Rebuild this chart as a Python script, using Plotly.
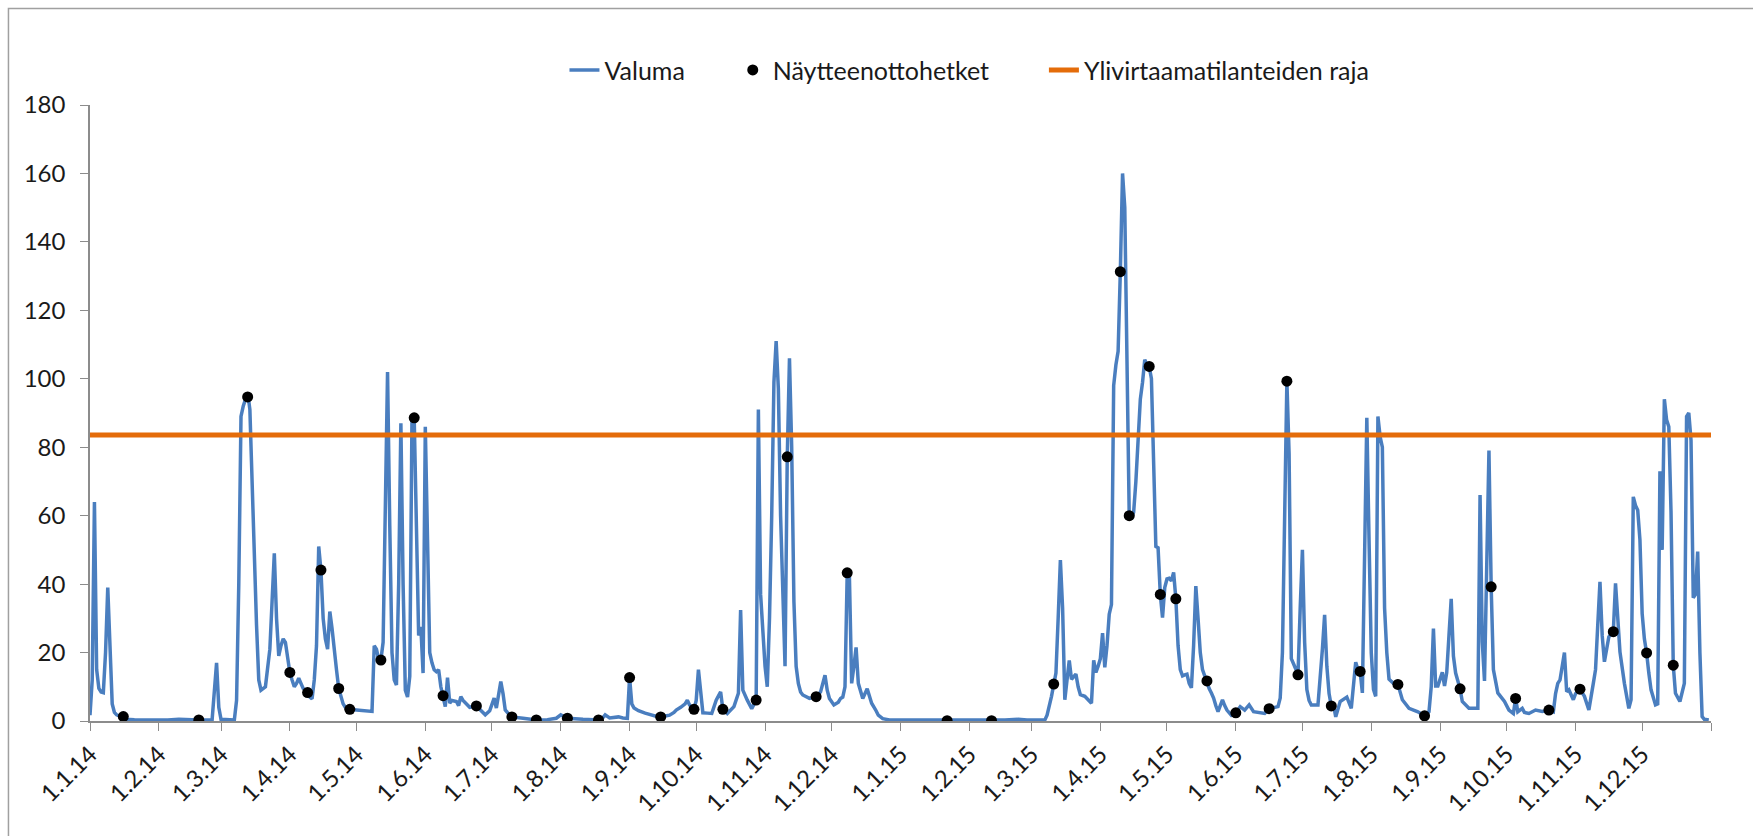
import pandas as pd
import plotly.graph_objects as go

# Valuma (päiviä 1.1.2014 alusta) ja arvot
valuma_paiva = [
    0, 1, 2, 3, 4, 5, 6, 7, 8, 9, 10, 11, 12, 14, 16, 20, 25, 30, 35, 40, 45, 49, 55,
    56, 57, 58, 59, 65, 66, 67, 68, 69, 70, 71, 72, 73, 74, 75, 76, 77, 79, 80, 81, 82,
    83, 84, 85, 86, 87, 88, 89, 90, 91, 92, 93, 94, 95, 96, 97, 98, 99, 100, 101, 102,
    103, 104, 105, 106, 107, 108, 109, 110, 111, 112, 113, 114, 115, 117, 120, 124, 127,
    128, 129, 130, 131, 132, 133, 134, 135, 136, 137, 138, 139, 140, 141, 142, 143, 144,
    145, 146, 147, 148, 149, 150, 151, 152, 153, 154, 155, 156, 157, 158, 159, 160, 161,
    162, 163, 165, 166, 167, 168, 169, 171, 174, 176, 178, 180, 182, 183, 185, 186, 187,
    188, 190, 195, 201, 206, 210, 212, 213, 215, 222, 229, 231, 232, 234, 236, 238, 240,
    242, 243, 244, 245, 247, 250, 253, 256, 258, 260, 261, 263, 264, 266, 268, 269, 270,
    272, 273, 274, 275, 276, 278, 280, 282, 284, 285, 287, 290, 292, 293, 294, 296, 298,
    300, 301, 302, 303, 304, 305, 306, 307, 308, 309, 310, 311, 312, 313, 314, 315, 316,
    317, 318, 319, 320, 321, 324, 327, 329, 331, 332, 333, 335, 337, 338, 339, 340, 341,
    342, 343, 344, 345, 346, 348, 350, 352, 354, 355, 357, 360, 364,
    370, 380, 386, 392, 400, 405, 412, 418, 422, 430, 431, 433, 434, 435, 436, 437, 438,
    439, 440, 441, 442, 443, 444, 445, 446, 448, 450, 451, 452, 453, 454, 455, 456, 457,
    458, 459, 460, 461, 462, 463, 464, 465, 466, 467, 468, 469, 470, 471, 472, 473, 474,
    475, 476, 477, 478, 479, 480, 481, 482, 483, 484, 485, 486, 487, 488, 489, 490, 491,
    492, 493, 494, 495, 496, 497, 498, 499, 500, 501, 502, 503, 504, 505, 506, 507, 508,
    509, 510, 511, 512, 514, 516, 518, 520, 522, 524, 529, 531, 535, 536, 537, 538, 539,
    540, 541, 543, 544, 545, 546, 547, 548, 549, 550, 553, 554, 555, 556, 557, 558, 559,
    560, 561, 563, 566, 568, 570, 571, 572, 573, 574, 575, 576, 577, 578, 579, 580, 581,
    582, 583, 584, 585, 587, 589, 591, 594, 598, 601, 603, 604, 605, 606, 607, 608, 609,
    610, 611, 612, 613, 614, 615, 617, 618, 621, 625, 626, 627, 628, 629, 630, 631, 632,
    634, 637, 639, 641, 642, 643, 645, 646, 648, 651, 654, 657, 659, 660, 661, 662, 664,
    665, 666, 668, 669, 671, 673, 675, 677, 678, 679, 680, 681, 682, 684, 686, 687, 688,
    689, 691, 693, 694, 695, 696, 697, 698, 699, 700, 701, 702, 703, 705, 706, 707, 708,
    709, 710, 711, 712, 713, 714, 716, 718, 719, 720, 721, 722, 723, 724, 725, 726, 727,
    729,
]
valuma_arvo = [
    1.7, 12, 64, 15, 9.5, 8.5, 8.3, 20, 39, 20, 5, 2.5, 1.8, 1.3, 0.5, 0.4, 0.3, 0.4, 0.3,
    0.5, 0.3, 0.3, 0.4,
    10, 17, 4, 0.5, 0.3, 6, 40, 89, 92, 94, 96, 91, 70, 45, 28, 12, 9, 10, 15, 21, 35,
    49, 30, 19, 22, 24, 23, 18, 14.2, 12, 10, 11, 12.5, 11, 9.5, 9, 8.3, 7, 6.5, 12, 22,
    51, 44, 30, 24, 21, 32, 27, 20, 15, 9.5, 7, 5, 4, 3.4, 3.2, 3, 2.8,
    22, 21, 18, 17.8, 23, 60, 102, 57, 20, 12, 10.5, 40, 87, 40, 9, 7, 13,
    89, 88.6, 57, 25, 27.5, 14, 86, 52, 20, 17, 15, 14.4, 15, 10, 7.4, 4.2, 12.7,
    5.2, 6, 5.7, 4.5, 7.1, 6, 5.2, 4, 4.4, 3, 1.8, 3, 6.7, 3.8, 11.5, 8, 3.2,
    2.5, 1.2, 0.8, 0.3, 0.4, 0.8, 1.8, 1.5, 0.8, 0.5, 0.3, 1, 1.8, 0.9, 1.0, 1.2, 0.9,
    0.8, 12.7, 5, 3.8, 3, 2.3, 1.8, 1.2, 1.3, 1.5, 1.7, 2.5, 3.2, 4, 5, 6.1, 4.7,
    3.4, 6, 15, 8, 2.4, 2.3, 2.2, 6.1, 8.5, 3.4, 2.2, 4.2, 8.1, 32.4, 9, 6.1, 3.6,
    6.1, 91, 37, 24, 16, 10, 30, 60, 99, 111, 97, 60, 35, 16, 77, 106, 80,
    35, 16, 11, 8.5, 7.6, 6.6, 7.1, 8.5, 13.4, 9, 6.6, 4.7, 5.5, 6.6, 7, 10, 43.3,
    42, 11, 15.9, 21.5, 11, 6.6, 9.4, 5.2, 3, 1.7, 0.7, 0.3, 0.3,
    0.3, 0.2, 0.1, 0.2, 0.3, 0.1, 0.3, 0.5, 0.3, 0.3, 1.7, 7.2, 10.8, 14, 30, 47, 33,
    6.2, 12, 17.7, 12.2, 13, 13.7, 10, 7.7, 7.2, 6, 5.2, 17.7, 14.2, 16, 18.2, 25.7, 15.7,
    22, 31.2, 34, 98, 104, 108, 131.3, 160, 150, 110, 60, 59, 61, 70, 83, 94, 99,
    105.6, 104, 103.6, 100, 78, 51, 50.6, 37, 30.2, 39, 41.5, 41.7, 41, 43.4, 35.7, 22, 15,
    13.2, 13.5, 13.7, 11, 9.7, 22, 39.4, 30, 20, 15, 13, 11.7, 9.5, 8.2, 6.7, 4.5, 2.7,
    4.5, 6.2, 4.5, 3.2, 1.7, 2.4, 4.2, 3.2, 4.7, 2.7, 2.2, 3.6, 4.2, 6.7, 20, 63, 99.3,
    78, 18.2, 15.2, 13.5, 33, 50, 23, 9.2, 6, 4.7, 4.7, 12, 21, 31, 16, 8, 4.4,
    4.7, 1.2, 5.7, 7, 3.7, 17.2, 15, 14.5, 8.2, 51, 88.6, 53, 20, 9.2, 7.2, 89, 83,
    80, 33, 20, 12.2, 11, 10.7, 6.2, 3.7, 2.7, 1.5, 2.7, 10, 27, 10.2, 10.2, 12, 14.2,
    10.2, 14.2, 25, 35.7, 19, 14, 9.4, 5.7, 3.7, 3.7, 66, 23, 11.7, 53, 79, 39.2, 15,
    8.2, 5.7, 3.2, 2.2, 6.6, 2.7, 3.7, 2.5, 2.2, 3.2, 2.8, 3.2, 2.7, 8, 11, 12, 20,
    8.6, 9.1, 6.2, 8, 9.3, 7.2, 3.2, 11, 15, 28, 40.7, 25, 17.3, 24.6, 26.1, 40.2, 28,
    20.2, 11, 3.7, 6.2, 65.5, 63, 61.6, 52.9, 31.4, 24, 19.9, 14, 9.1, 4.7, 5, 73, 50,
    94, 88, 86, 61, 16.3, 8.1, 5.7, 11, 89, 90, 82, 36, 37, 49.5, 20, 1.3, 0.5,
    0.3,
]

# Näytteenottohetket
naytteet_paiva = [
    15, 49, 71, 90, 98, 104, 112, 117, 131, 146, 159, 174, 190, 201, 215, 229, 243, 257,
    272, 285, 300, 314, 327, 341, 386, 406, 434, 464, 468, 477, 482, 489, 503, 516, 531,
    539, 544, 559, 572, 589, 601, 617, 631, 642, 657, 671, 686, 701, 713,
]
naytteet_arvo = [
    1.3, 0.3, 94.7, 14.2, 8.3, 44.1, 9.5, 3.4, 17.8, 88.6, 7.4, 4.4, 1.2, 0.3, 0.8, 0.3,
    12.7, 1.2, 3.4, 3.4, 6.1, 77.2, 7.1, 43.3, 0.1, 0.1, 10.8, 131.3, 60, 103.6, 37, 35.7,
    11.7, 2.4, 3.6, 99.3, 13.5, 4.4, 14.5, 10.7, 1.5, 9.4, 39.2, 6.6, 3.2, 9.3, 26.1,
    19.9, 16.3,
]

raja = 83.6

kuukausi_tekstit = [
    "1.1.14", "1.2.14", "1.3.14", "1.4.14", "1.5.14", "1.6.14", "1.7.14", "1.8.14",
    "1.9.14", "1.10.14", "1.11.14", "1.12.14", "1.1.15", "1.2.15", "1.3.15", "1.4.15",
    "1.5.15", "1.6.15", "1.7.15", "1.8.15", "1.9.15", "1.10.15", "1.11.15", "1.12.15",
]

alku = pd.Timestamp("2014-01-01")
valuma_pvm = alku + pd.to_timedelta(valuma_paiva, unit="D")
naytteet_pvm = alku + pd.to_timedelta(naytteet_paiva, unit="D")
tick_pvm = pd.date_range("2014-01-01", periods=len(kuukausi_tekstit) + 1, freq="MS")

fig = go.Figure()

fig.add_trace(go.Scatter(
    x=valuma_pvm, y=valuma_arvo, name="Valuma", mode="lines",
    line=dict(color="#4a7ebf", width=3.5), legend="legend",
))
fig.add_trace(go.Scatter(
    x=naytteet_pvm, y=naytteet_arvo, name="Näytteenottohetket", mode="markers",
    marker=dict(color="black", size=11), legend="legend2",
))
fig.add_trace(go.Scatter(
    x=[alku, tick_pvm[-1]], y=[raja, raja], name="Ylivirtaamatilanteiden raja",
    mode="lines", line=dict(color="#e46c0a", width=5), legend="legend3",
))

# kolme erillistä selitettä, jotta välit vastaavat alkuperäistä
selite = dict(
    orientation="h", xref="container", yref="container", y=0.916,
    xanchor="left", yanchor="middle", font=dict(size=25, color="#1a1a1a"),
    bgcolor="rgba(0,0,0,0)",
)

fig.update_layout(
    width=1753, height=836,
    paper_bgcolor="white", plot_bgcolor="white",
    font=dict(family="Lato", size=23, color="#1a1a1a"),
    margin=dict(l=90, r=42, t=105, b=115, autoexpand=False),
    showlegend=True,
    legend=dict(selite, x=0.322),
    legend2=dict(selite, x=0.418),
    legend3=dict(selite, x=0.5955),
    # kaavion reunus: vain ylä- ja vasen reuna näkyvät kuvassa
    shapes=[dict(
        type="rect", xref="paper", yref="paper",
        x0=-0.0503, x1=1.05, y0=-0.25, y1=1.1567,
        line=dict(color="#a0a0a0", width=1.5), fillcolor="rgba(0,0,0,0)",
    )],
)

fig.update_xaxes(
    type="date", range=[alku, tick_pvm[-1]],
    tickvals=tick_pvm, ticktext=kuukausi_tekstit + [""],
    tickangle=-45, tickfont=dict(size=24), showgrid=False, zeroline=False,
    showline=True, linecolor="#8c8c8c", linewidth=1.5,
    ticks="outside", ticklen=8, tickcolor="#8c8c8c",
)
fig.update_yaxes(
    range=[0, 180], tickvals=list(range(0, 181, 20)), tickfont=dict(size=24),
    showgrid=False, zeroline=False, ticklabelstandoff=10,
    showline=True, linecolor="#8c8c8c", linewidth=1.5,
    ticks="outside", ticklen=8, tickcolor="#8c8c8c",
)

# sivun oletusreunus pois, jotta kuva alkaa vasemmasta yläkulmasta
fig.write_html(
    "out.html",
    config={"displayModeBar": False},
    post_script="document.body.style.margin = '0';",
)
